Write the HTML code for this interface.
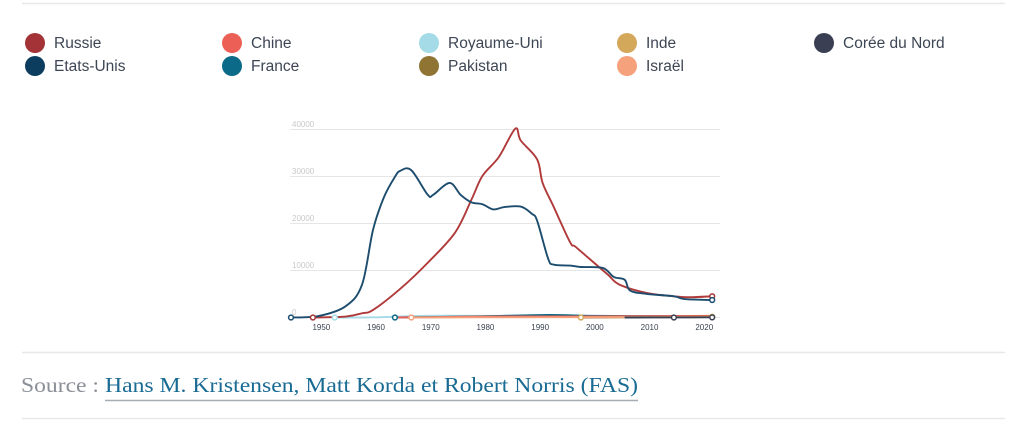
<!DOCTYPE html>
<html><head><meta charset="utf-8"><style>
html,body{margin:0;padding:0;background:#fff;width:1022px;height:433px;overflow:hidden}
svg{display:block}
</style></head><body>
<svg id="s" width="1022" height="433" xmlns="http://www.w3.org/2000/svg" font-family="Liberation Sans, sans-serif">
<line x1="22" y1="3.5" x2="1005" y2="3.5" stroke="#e8e8ea" stroke-width="1.5"/>
<g font-size="15.5" fill="#3d4654">
<circle cx="35" cy="43" r="10" fill="#a33336"/><text x="54" y="48">Russie</text>
<circle cx="35" cy="66" r="10" fill="#0c3d5e"/><text x="54" y="71">Etats-Unis</text>
<circle cx="232" cy="43" r="10" fill="#ec5f57"/><text x="251" y="48">Chine</text>
<circle cx="232" cy="66" r="10" fill="#0b6a87"/><text x="251" y="71">France</text>
<circle cx="429" cy="43" r="10" fill="#a4dbe6"/><text x="448" y="48">Royaume-Uni</text>
<circle cx="429" cy="66" r="10" fill="#8f7434"/><text x="448" y="71">Pakistan</text>
<circle cx="627" cy="43" r="10" fill="#d4a85a"/><text x="646" y="48">Inde</text>
<circle cx="627" cy="66" r="10" fill="#f5a27c"/><text x="646" y="71">Israël</text>
<circle cx="824" cy="43" r="10" fill="#3b3f54"/><text x="843" y="48">Corée du Nord</text>
</g>
<g stroke="#e6e6e6" stroke-width="1">
<line x1="290" y1="129.5" x2="720" y2="129.5"/>
<line x1="290" y1="176.5" x2="720" y2="176.5"/>
<line x1="290" y1="223.5" x2="720" y2="223.5"/>
<line x1="290" y1="270.5" x2="720" y2="270.5"/>
<line x1="290" y1="317.5" x2="720" y2="317.5"/>
</g>
<g font-size="8" fill="#c9c9c9">
<text x="292" y="127">40000</text><text x="292" y="174">30000</text><text x="292" y="221">20000</text><text x="292" y="268">10000</text><text x="292" y="315">0</text>
</g>
<g id="lines"></g>
<g font-size="8" fill="#3a4250" text-anchor="middle" id="xl"></g>
<line x1="22" y1="352.5" x2="1005" y2="352.5" stroke="#e8e8ea" stroke-width="1.5"/>
<line x1="22" y1="418.5" x2="1005" y2="418.5" stroke="#e8e8ea" stroke-width="1.5"/>
<text x="21" y="392" font-family="Liberation Serif, serif" font-size="21" fill="#8a8f98" textLength="78" lengthAdjust="spacingAndGlyphs">Source :</text>
<text x="105" y="392" font-family="Liberation Serif, serif" font-size="21" fill="#1a6b94" textLength="533" lengthAdjust="spacingAndGlyphs">Hans M. Kristensen, Matt Korda et Robert Norris (FAS)</text>
<line x1="105" y1="400.5" x2="638" y2="400.5" stroke="#a7adb5" stroke-width="1.5"/>
</svg>
<script>
var X=function(y){return 291+(y-1945)*5.47},Y=function(v){return 317.5-v*0.00472};
function path(d){var p=d.map(function(a){return [X(a[0]),Y(a[1])]});var s="M"+p[0][0]+","+p[0][1];
for(var i=0;i<p.length-1;i++){var p0=p[i-1]||p[i],p1=p[i],p2=p[i+1],p3=p[i+2]||p2;
s+=" C"+(p1[0]+(p2[0]-p0[0])/6)+","+(p1[1]+(p2[1]-p0[1])/6)+" "+(p2[0]-(p3[0]-p1[0])/6)+","+(p2[1]-(p3[1]-p1[1])/6)+" "+p2[0]+","+p2[1];}return s;}
var S=[
["#a4dbe6",[[1953,0],[1960,30],[1970,350],[1980,350],[1990,300],[2000,250],[2022,200]]],
["#0b6a87",[[1964,0],[1970,80],[1980,250],[1992,540],[2000,350],[2010,300],[2022,290]]],
["#ec5f57",[[1964,0],[1970,70],[1980,200],[1990,230],[2000,230],[2022,350]]],
["#d4a85a",[[1998,0],[2022,160]]],
["#8f7434",[[1998,0],[2022,165]]],
["#f5a27c",[[1967,0],[1980,40],[2022,90]]],
["#3b3f54",[[2006,0],[2015,10],[2022,30]]],
["#b03a3a",[[1949,0],[1955,200],[1958,900],[1960,1600],[1965,6100],[1970,11600],[1975,18000],[1978,25000],[1980,30000],[1983,34000],[1986,40000],[1987,37500],[1990,33500],[1991,28500],[1993,23500],[1996,16000],[1997,15000],[2000,12000],[2003,9000],[2005,7000],[2010,5200],[2015,4500],[2018,4300],[2022,4500]]],
["#1d4d6e",[[1945,0],[1950,300],[1955,2400],[1958,7000],[1960,18600],[1962,25500],[1964,29800],[1965,31100],[1967,31200],[1970,26000],[1971,26000],[1974,28500],[1976,26000],[1978,24400],[1980,24000],[1982,22900],[1984,23400],[1987,23500],[1989,22000],[1990,20500],[1992,12500],[1993,11200],[1996,11000],[1998,10700],[2002,10500],[2004,8600],[2006,8000],[2007,5700],[2010,5000],[2015,4500],[2017,3900],[2022,3700]]]];
var g=document.getElementById("lines"),h="";
S.forEach(function(s){h+='<path d="'+path(s[1])+'" fill="none" stroke="'+s[0]+'" stroke-width="1.9"/>';});
[[1945,"#1d4d6e"],[1949,"#a33336"],[1953,"#a4dbe6"],[1964,"#0b6a87"],[1967,"#f5a27c"],[1998,"#d4a85a"],[2015,"#3b3f54"],[2022,"#a33336",4500],[2022,"#1d4d6e",3700],[2022,"#d4a85a",160],[2022,"#3b3f54",30]].forEach(function(m){h+='<circle cx="'+X(m[0])+'" cy="'+Y(m[2]||0)+'" r="2.4" fill="#fff" stroke="'+m[1]+'" stroke-width="1.5"/>';});
g.innerHTML=h;
var xl="";for(var y=1950;y<=2020;y+=10)xl+='<text x="'+(X(y)+3)+'" y="330">'+y+'</text>';
document.getElementById("xl").innerHTML=xl;
</script>
</body></html>
